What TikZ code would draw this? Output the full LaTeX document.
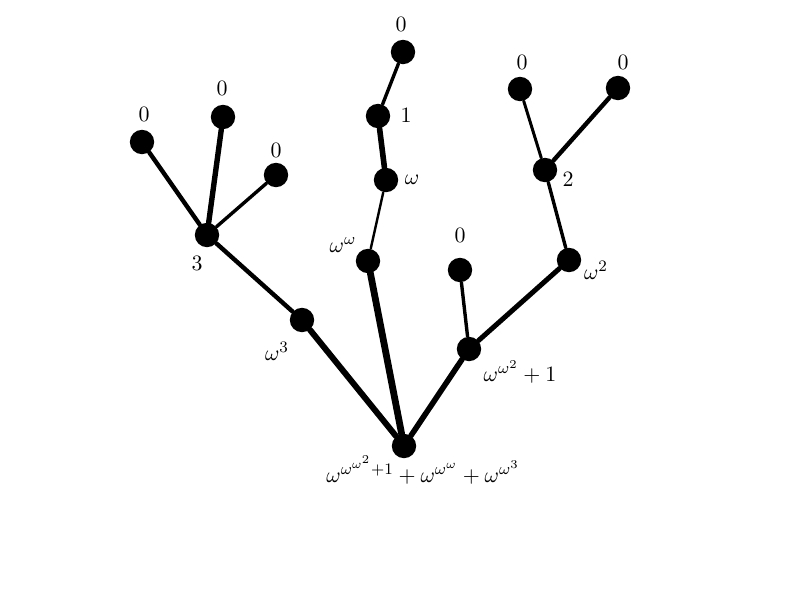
\documentclass[tikz,border=0pt]{standalone}
\usepackage{amsmath,amsfonts}
\usepackage{tikz}

\tikzset{
  vert/.style={circle, fill=black, inner sep=0pt, minimum size=12.2pt},
  lab/.style={inner sep=0pt, font=\fontsize{11.2}{13}\selectfont},
}

\begin{document}
\begin{tikzpicture}[x=0.5pt, y=-0.5pt, line cap=round]
\useasboundingbox (0,0) rectangle (800,600);

% Nodes
  \node[vert] (root) at (404,446) {}; %
  \node[vert] (w3)   at (302,320) {}; %
  \node[vert] (t)    at (207,235) {}; %
  \node[vert] (ta)   at (142,142) {}; %
  \node[vert] (tb)   at (223,117) {}; %
  \node[vert] (tc)   at (276,175) {}; %
  \node[vert] (ww)   at (368,261) {}; %
  \node[vert] (w)    at (386,180) {}; %
  \node[vert] (one)  at (378,116) {}; %
  \node[vert] (z)    at (403,52)  {}; %
  \node[vert] (wwp)  at (469,349) {}; %
  \node[vert] (wz)   at (460,270) {}; %
  \node[vert] (w2)   at (569,260) {}; %
  \node[vert] (two)  at (545,170) {}; %
  \node[vert] (twa)  at (520,89)  {}; %
  \node[vert] (twb)  at (618,88)  {}; %

% Edges
  \draw[line width=3pt]   (root) -- (w3) ;
  \draw[line width=2.2pt] (w3)   -- (t) ;
  \draw[line width=2.2pt] (t)    -- (ta) ;
  \draw[line width=2.7pt] (t)    -- (tb) ;
  \draw[line width=1.7pt] (t)    -- (tc) ;
  \draw[line width=3.4pt] (root) -- (ww) ;
  \draw[line width=1.2pt] (ww)   -- (w) ;
  \draw[line width=2.8pt] (w)    -- (one) ;
  \draw[line width=1.7pt] (one)  -- (z) ;
  \draw[line width=2.8pt] (root) -- (wwp) ;
  \draw[line width=1.7pt] (wwp)  -- (wz) ;
  \draw[line width=2.5pt] (wwp)  -- (w2) ;
  \draw[line width=1.7pt] (w2)   -- (two) ;
  \draw[line width=1.5pt] (two)  -- (twa) ;
  \draw[line width=2.2pt] (two)  -- (twb) ;

% Labels
  \node[lab] (lroot) at (423,470) {$\omega^{\omega^{\omega^2}+1}+\omega^{\omega^\omega}+\omega^{\omega^3}$}; %
  \node[lab] (lw3)   at (277,351) {$\omega^3$}; %
  \node[lab] (lt)    at (197,263) {$3$}; %
  \node[lab] (lta)   at (144,114) {$0$}; %
  \node[lab] (ltb)   at (222,88)  {$0$}; %
  \node[lab] (ltc)   at (276,150) {$0$}; %
  \node[lab] (lww)   at (343,245) {$\omega^\omega$}; %
  \node[lab] (lw)    at (412,180) {$\omega$}; %
  \node[lab] (lone)  at (406,115) {$1$}; %
  \node[lab] (lz)    at (401,24)  {$0$}; %
  \node[lab] (lwwp)  at (520,372) {$\omega^{\omega^2}+1$}; %
  \node[lab] (lwz)   at (460,235) {$0$}; %
  \node[lab] (lw2)   at (596,270) {$\omega^2$}; %
  \node[lab] (ltwo)  at (568,179) {$2$}; %
  \node[lab] (ltwa)  at (522,62)  {$0$}; %
  \node[lab] (ltwb)  at (623,62)  {$0$}; %

\end{tikzpicture}
\end{document}
